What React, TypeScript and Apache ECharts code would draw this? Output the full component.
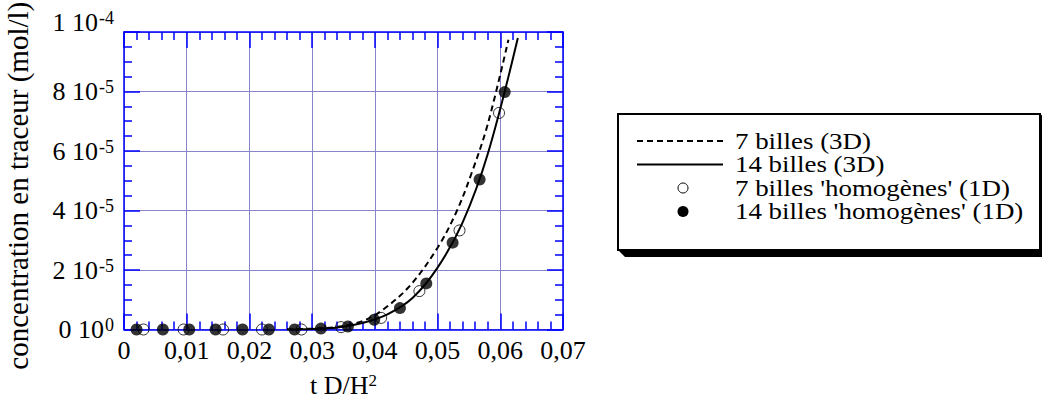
import React, { useEffect, useRef } from 'react';
import * as echarts from 'echarts';

const FONT = "'Liberation Serif', 'Times New Roman', Times, serif";

// Axis tick labels
const xTickLabels = ['0', '0,01', '0,02', '0,03', '0,04', '0,05', '0,06', '0,07'];
const yTickMain = ['0 10', '2 10', '4 10', '6 10', '8 10', '1 10'];
const yTickExp = ['0', '-5', '-5', '-5', '-5', '-4'];

// Series names
const seriesNames = ['7 billes (3D)', '14 billes (3D)', "7 billes 'homogènes' (1D)", "14 billes 'homogènes' (1D)"];

// 7 billes (3D) – dashed curve
const dash3dX = [0.026, 0.03, 0.034, 0.038, 0.041, 0.0455, 0.05, 0.053, 0.0555, 0.058, 0.0613];
const dash3dY = [0, 0.03e-5, 0.09e-5, 0.28e-5, 0.62e-5, 1.45e-5, 2.75e-5, 3.95e-5, 5.3e-5, 6.9e-5, 9.74e-5];

// 14 billes (3D) – solid curve
const solid3dX = [0.026, 0.03, 0.034, 0.038, 0.042, 0.046, 0.05, 0.054, 0.058, 0.0628];
const solid3dY = [0, 0.02e-5, 0.07e-5, 0.22e-5, 0.51e-5, 1.06e-5, 2.08e-5, 3.6e-5, 5.9e-5, 9.8e-5];

// 7 billes 'homogènes' (1D) – open circles
const open1dX = [0.0031, 0.0095, 0.0158, 0.022, 0.0283, 0.0346, 0.041, 0.0471, 0.0535, 0.0598];
const open1dY = [0, 0, 0, 0, 0, 0.08e-5, 0.39e-5, 1.29e-5, 3.33e-5, 7.28e-5];

// 14 billes 'homogènes' (1D) – filled circles
const filled1dX = [0.002, 0.0062, 0.0104, 0.0146, 0.0189, 0.0231, 0.0272, 0.0314, 0.0357, 0.0399, 0.044, 0.0482, 0.0524, 0.0567, 0.0607];
const filled1dY = [0, 0, 0, 0, 0, 0, 0, 0.03e-5, 0.1e-5, 0.33e-5, 0.72e-5, 1.55e-5, 2.92e-5, 5.04e-5, 7.98e-5];

const pairs = (xs: number[], ys: number[]) => xs.map((x, i) => [x, ys[i]]);

const AXIS_BLUE = '#0000ff';
const GRID_COLOR = '#8884c8';

const GRID = { left: 124, top: 32, width: 439, height: 302 };

// Legend layout (box drawn as graphic)
const LEG = { x: 618, y: 114, w: 422, h: 136, sampleX1: 637, sampleX2: 723, markerX: 683, textX: 735, rowY0: 141, rowStep: 23.5 };

function buildLegendGraphic(): any[] {
  const rowY = (i: number) => LEG.rowY0 + i * LEG.rowStep;
  const els: any[] = [
    {
      type: 'polygon',
      z: 0,
      silent: true,
      shape: {
        points: [
          [LEG.x, LEG.y + LEG.h],
          [LEG.x + 7, LEG.y + LEG.h + 7],
          [LEG.x + LEG.w + 10, LEG.y + LEG.h + 7],
          [LEG.x + LEG.w + 10, LEG.y + 7],
          [LEG.x + LEG.w, LEG.y],
        ],
      },
      style: { fill: '#000' },
    },
    {
      type: 'rect',
      z: 1,
      silent: true,
      shape: { x: LEG.x, y: LEG.y, width: LEG.w, height: LEG.h },
      style: { fill: '#fff', stroke: '#000', lineWidth: 2 },
    },
    {
      type: 'line',
      z: 2,
      silent: true,
      shape: { x1: LEG.sampleX1, y1: rowY(0), x2: LEG.sampleX2, y2: rowY(0) },
      style: { stroke: '#000', lineWidth: 2, lineDash: [6, 4] },
    },
    {
      type: 'line',
      z: 2,
      silent: true,
      shape: { x1: LEG.sampleX1, y1: rowY(1), x2: LEG.sampleX2, y2: rowY(1) },
      style: { stroke: '#000', lineWidth: 2 },
    },
    {
      type: 'circle',
      z: 2,
      silent: true,
      shape: { cx: LEG.markerX, cy: rowY(2), r: 5 },
      style: { fill: '#fff', stroke: '#000', lineWidth: 1 },
    },
    {
      type: 'circle',
      z: 2,
      silent: true,
      shape: { cx: LEG.markerX, cy: rowY(3), r: 5.5 },
      style: { fill: '#000' },
    },
  ];
  seriesNames.forEach((name, i) => {
    els.push({
      type: 'text',
      z: 2,
      silent: true,
      x: LEG.textX,
      y: rowY(i),
      scaleX: 1.17,
      style: {
        text: name,
        x: 0,
        y: 0,
        fontFamily: FONT,
        fontSize: 23,
        fill: '#000',
        align: 'left',
        verticalAlign: 'middle',
        textAlign: 'left',
        textVerticalAlign: 'middle',
      },
    });
  });
  return els;
}

function buildOption(): any {
  const axisCommon = {
    type: 'value',
    axisLine: { show: true, onZero: false, lineStyle: { color: AXIS_BLUE, width: 1.5 } },
    axisTick: { show: true, inside: true, length: 16, lineStyle: { color: AXIS_BLUE, width: 1.5 } },
    minorTick: { show: true, length: 8, lineStyle: { color: AXIS_BLUE, width: 1.5 } },
  };
  const rich = {
    n: { fontFamily: FONT, fontSize: 26, color: '#000', lineHeight: 27 },
    s: { fontFamily: FONT, fontSize: 18, color: '#000', verticalAlign: 'top', lineHeight: 27, padding: [0, 0, 0, 1] },
    g: { fontFamily: FONT, fontSize: 10, lineHeight: 20 },
  };
  return {
    animation: false,
    backgroundColor: '#ffffff',
    grid: { ...GRID, containLabel: false },
    xAxis: [
      {
        ...axisCommon,
        position: 'bottom',
        min: 0,
        max: 0.07,
        interval: 0.01,
        minorTick: { ...axisCommon.minorTick, splitNumber: 5 },
        splitLine: { show: true, lineStyle: { color: GRID_COLOR, width: 1 } },
        axisLabel: {
          margin: 8,
          fontFamily: FONT,
          fontSize: 26,
          color: '#000',
          formatter: (v: number) => xTickLabels[Math.round(v / 0.01)] ?? '',
        },
        name: '{m|t D/H}{s|2}',
        nameLocation: 'middle',
        nameGap: 42,
        nameTextStyle: {
          rich: {
            m: { fontFamily: FONT, fontSize: 26, color: '#000', lineHeight: 27 },
            s: { fontFamily: FONT, fontSize: 17, color: '#000', verticalAlign: 'top', lineHeight: 27 },
          },
        },
      },
      {
        ...axisCommon,
        position: 'top',
        min: 0,
        max: 0.07,
        interval: 0.01,
        minorTick: { ...axisCommon.minorTick, splitNumber: 5 },
        splitLine: { show: false },
        axisLabel: { show: false },
      },
    ],
    yAxis: [
      {
        ...axisCommon,
        position: 'left',
        min: 0,
        max: 1e-4,
        interval: 2e-5,
        minorTick: { ...axisCommon.minorTick, splitNumber: 4 },
        splitLine: { show: true, lineStyle: { color: GRID_COLOR, width: 1 } },
        axisLabel: {
          margin: 10,
          formatter: (v: number) => {
            const i = Math.round(v / 2e-5);
            const base = `{n|${yTickMain[i]}}{s|${yTickExp[i]}}`;
            return i === yTickMain.length - 1 ? `${base}\n{g| }` : base;
          },
          rich,
        },
        name: 'concentration en traceur (mol/l)',
        nameLocation: 'middle',
        nameRotate: 90,
        nameGap: 92,
        nameTextStyle: { fontFamily: FONT, fontSize: 29, color: '#000', padding: [0, 10, 0, 0] },
      },
      {
        ...axisCommon,
        position: 'right',
        min: 0,
        max: 1e-4,
        interval: 2e-5,
        minorTick: { ...axisCommon.minorTick, splitNumber: 4 },
        splitLine: { show: false },
        axisLabel: { show: false },
      },
    ],
    legend: { show: false, data: seriesNames },
    graphic: buildLegendGraphic(),
    series: [
      {
        name: seriesNames[0],
        type: 'line',
        data: pairs(dash3dX, dash3dY),
        symbol: 'none',
        smooth: 0.35,
        lineStyle: { color: '#000', width: 2, type: [6, 4] },
        itemStyle: { color: '#000' },
        z: 3,
      },
      {
        name: seriesNames[1],
        type: 'line',
        data: pairs(solid3dX, solid3dY),
        symbol: 'none',
        smooth: 0.35,
        lineStyle: { color: '#000', width: 2, type: 'solid' },
        itemStyle: { color: '#000' },
        z: 3,
      },
      {
        name: seriesNames[2],
        type: 'scatter',
        data: pairs(open1dX, open1dY),
        symbol: 'circle',
        symbolSize: 11,
        itemStyle: { color: 'rgba(255,255,255,0)', borderColor: '#000', borderWidth: 1 },
        z: 4,
      },
      {
        name: seriesNames[3],
        type: 'scatter',
        data: pairs(filled1dX, filled1dY),
        symbol: 'circle',
        symbolSize: 12,
        itemStyle: { color: '#000' },
        z: 5,
      },
    ],
  };
}

export default function App() {
  const ref = useRef<HTMLDivElement>(null);
  useEffect(() => {
    document.body.style.margin = '0';
    if (!ref.current) return;
    const chart = echarts.init(ref.current, null, { renderer: 'svg' });
    chart.setOption(buildOption());
    return () => chart.dispose();
  }, []);
  return (
    <div
      ref={ref}
      style={{ position: 'absolute', left: 0, top: 0, width: 1042, height: 403, background: '#fff' }}
    />
  );
}
